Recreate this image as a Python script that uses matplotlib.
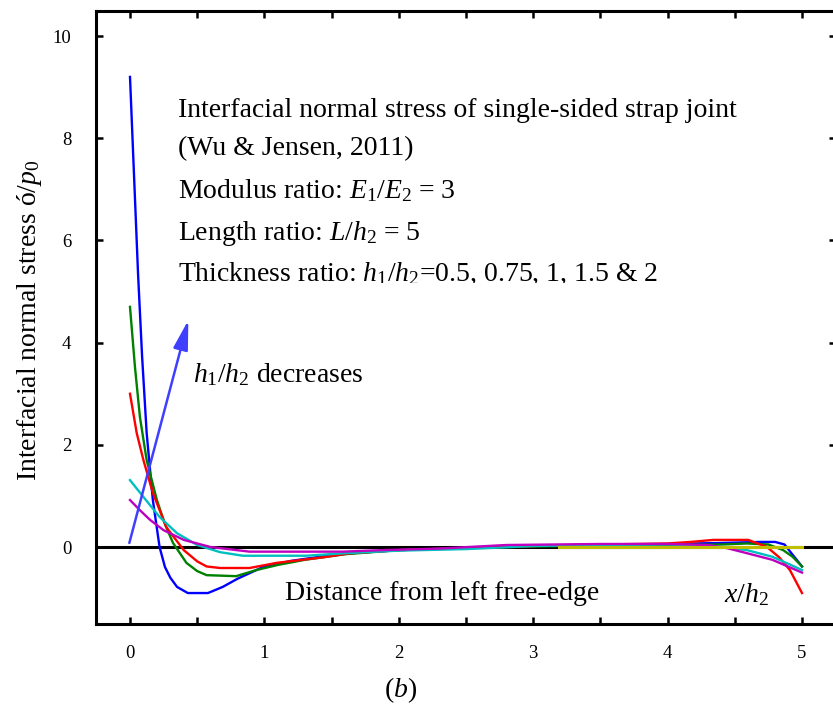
import matplotlib
matplotlib.use("Agg")
import matplotlib.pyplot as plt
from matplotlib.transforms import Bbox, TransformedBbox

plt.rcParams['font.family'] = ['Liberation Serif', 'DejaVu Serif']
plt.rcParams['mathtext.fontset'] = 'custom'
plt.rcParams['mathtext.rm'] = 'Liberation Serif'
plt.rcParams['mathtext.it'] = 'Liberation Serif:italic'

# ---- data ----
x_h050 = [0, 0.03, 0.06, 0.09, 0.124, 0.17, 0.22, 0.26, 0.30, 0.35, 0.43, 0.58, 0.69, 0.80, 0.99,
          1.2, 1.44, 1.64, 2.0, 2.5, 3.0, 3.5, 4.0, 4.4, 4.69, 4.8, 4.87, 4.93, 5.0]
y_h050 = [9.2, 7.27, 5.34, 3.73, 2.23, 0.92, 0.0, -0.39, -0.6, -0.78, -0.9, -0.9, -0.78, -0.62, -0.39,
          -0.27, -0.18, -0.12, -0.06, -0.02, 0.02, 0.05, 0.06, 0.08, 0.1, 0.1, 0.05, -0.15, -0.38]

x_h075 = [0, 0.037, 0.074, 0.124, 0.2, 0.26, 0.32, 0.42, 0.5, 0.57, 0.79, 0.94, 1.1, 1.3, 1.6,
          2.0, 2.5, 3.0, 3.5, 4.0, 4.4, 4.59, 4.75, 4.86, 4.93, 5.0]
y_h075 = [4.7, 3.52, 2.54, 1.70, 0.92, 0.45, 0.08, -0.31, -0.47, -0.55, -0.57, -0.45, -0.35, -0.25, -0.14,
          -0.06, -0.02, 0.01, 0.03, 0.04, 0.05, 0.07, 0.05, -0.06, -0.19, -0.38]

x_h100 = [0, 0.05, 0.1, 0.17, 0.27, 0.4, 0.5, 0.57, 0.67, 0.89, 1.09, 1.44, 1.64, 2.0, 2.5,
          3.0, 3.5, 4.0, 4.17, 4.34, 4.6, 4.74, 4.83, 4.91, 5.0]
y_h100 = [3.0, 2.23, 1.70, 1.06, 0.39, -0.06, -0.28, -0.38, -0.41, -0.41, -0.31, -0.2, -0.12, -0.06, -0.02,
          0.02, 0.05, 0.07, 0.1, 0.14, 0.14, 0.0, -0.2, -0.45, -0.9]

x_h150 = [0, 0.1, 0.22, 0.35, 0.5, 0.67, 0.84, 1.31, 1.6, 2.0, 2.5, 3.0, 3.5, 4.0, 4.3,
          4.59, 4.78, 4.9, 5.0]
y_h150 = [1.31, 0.98, 0.59, 0.27, 0.04, -0.1, -0.17, -0.17, -0.12, -0.07, -0.04, 0.02, 0.04, 0.05, 0.03,
          -0.06, -0.19, -0.33, -0.45]

x_h200 = [0, 0.074, 0.15, 0.25, 0.4, 0.6, 0.89, 1.58, 1.88, 2.3, 2.8, 3.5, 4.0, 4.3, 4.44,
          4.59, 4.78, 5.0]
y_h200 = [0.92, 0.72, 0.53, 0.33, 0.14, 0.0, -0.09, -0.09, -0.06, -0.03, 0.04, 0.06, 0.06, 0.04, -0.02,
          -0.12, -0.25, -0.5]

x_ref = [3.19, 5.0]
y_ref = [0.0, 0.0]

xtick_vals = [0, 0.5, 1, 1.5, 2, 2.5, 3, 3.5, 4, 4.5, 5]
xtick_labels = ['0', '', '1', '', '2', '', '3', '', '4', '', '5']
ytick_vals = [0, 2, 4, 6, 8, 10]

series = [(x_h050, y_h050, 'b'), (x_h075, y_h075, 'g'), (x_h100, y_h100, 'r'),
          (x_h150, y_h150, 'c'), (x_h200, y_h200, 'm')]

W, H = 833, 704
fig = plt.figure(figsize=(W / 100, H / 100), dpi=100)
ax = fig.add_axes([96.4 / W, (H - 623.7) / H, 739.2 / W, 613.2 / H])
ax.set_xlim(-0.25, 5.25)
ax.set_ylim(-1.5, 10.5)

ax.axhline(0, color='black', lw=2.2, zorder=1)
for xs, ys, c in series:
    ax.plot(xs, ys, color=c, lw=1.7, zorder=2)
ax.plot(x_ref, y_ref, color='y', lw=2.2, zorder=3)

# arrow
ax.annotate('', xy=(0.434, 4.44), xytext=(-0.005, 0.08),
            arrowprops=dict(arrowstyle='-|>,head_length=1.8,head_width=0.45',
                            mutation_scale=10, color='#3f3fff', lw=1.8,
                            shrinkA=0, shrinkB=0))

fs = 20
lines = ["Interfacial normal stress of single-sided strap joint",
         "(Wu & Jensen, 2011)",
         "Modulus ratio: $E_1/E_2$ = 3",
         "Length ratio: $L/h_2$ = 5",
         "Thickness ratio: $h_1/h_2$=0.5, 0.75, 1, 1.5 & 2"]
ybase = [8.415, 7.67, 6.83, 6.01, 5.21]
clip = TransformedBbox(Bbox([[0, (H - 282.5) / H], [1, 1]]), fig.transFigure)
for s, yb in zip(lines, ybase):
    t = ax.text(0.357, yb, s, fontsize=fs, ha='left', va='baseline')
    t.set_clip_box(clip)
    t.set_clip_on(True)

ax.text(0.469, 3.23, "$h_1/h_2$ decreases", fontsize=fs, ha='left', va='baseline')
ax.text(1.153, -1.037, "Distance from left free-edge", fontsize=fs, ha='left', va='baseline')
ax.text(4.42, -1.07, "$x/h_2$", fontsize=fs, ha='left', va='baseline')

fig.text(401 / W, (H - 697) / H, "($b$)", fontsize=fs, ha='center', va='baseline')
fig.text(30 / W, (H - 320) / H, "Interfacial normal stress ó/$p_0$", fontsize=20,
         rotation=90, ha='center', va='center')

ax.set_xticks(xtick_vals)
ax.set_xticklabels(xtick_labels)
ax.set_yticks(ytick_vals)
ax.tick_params(direction='in', length=5, width=1.8, top=True, right=True, labelsize=13.5)
ax.tick_params(axis='x', pad=15)
ax.tick_params(axis='y', pad=18)
for sp in ax.spines.values():
    sp.set_linewidth(2.2)

fig.savefig('out.png', dpi=100)
